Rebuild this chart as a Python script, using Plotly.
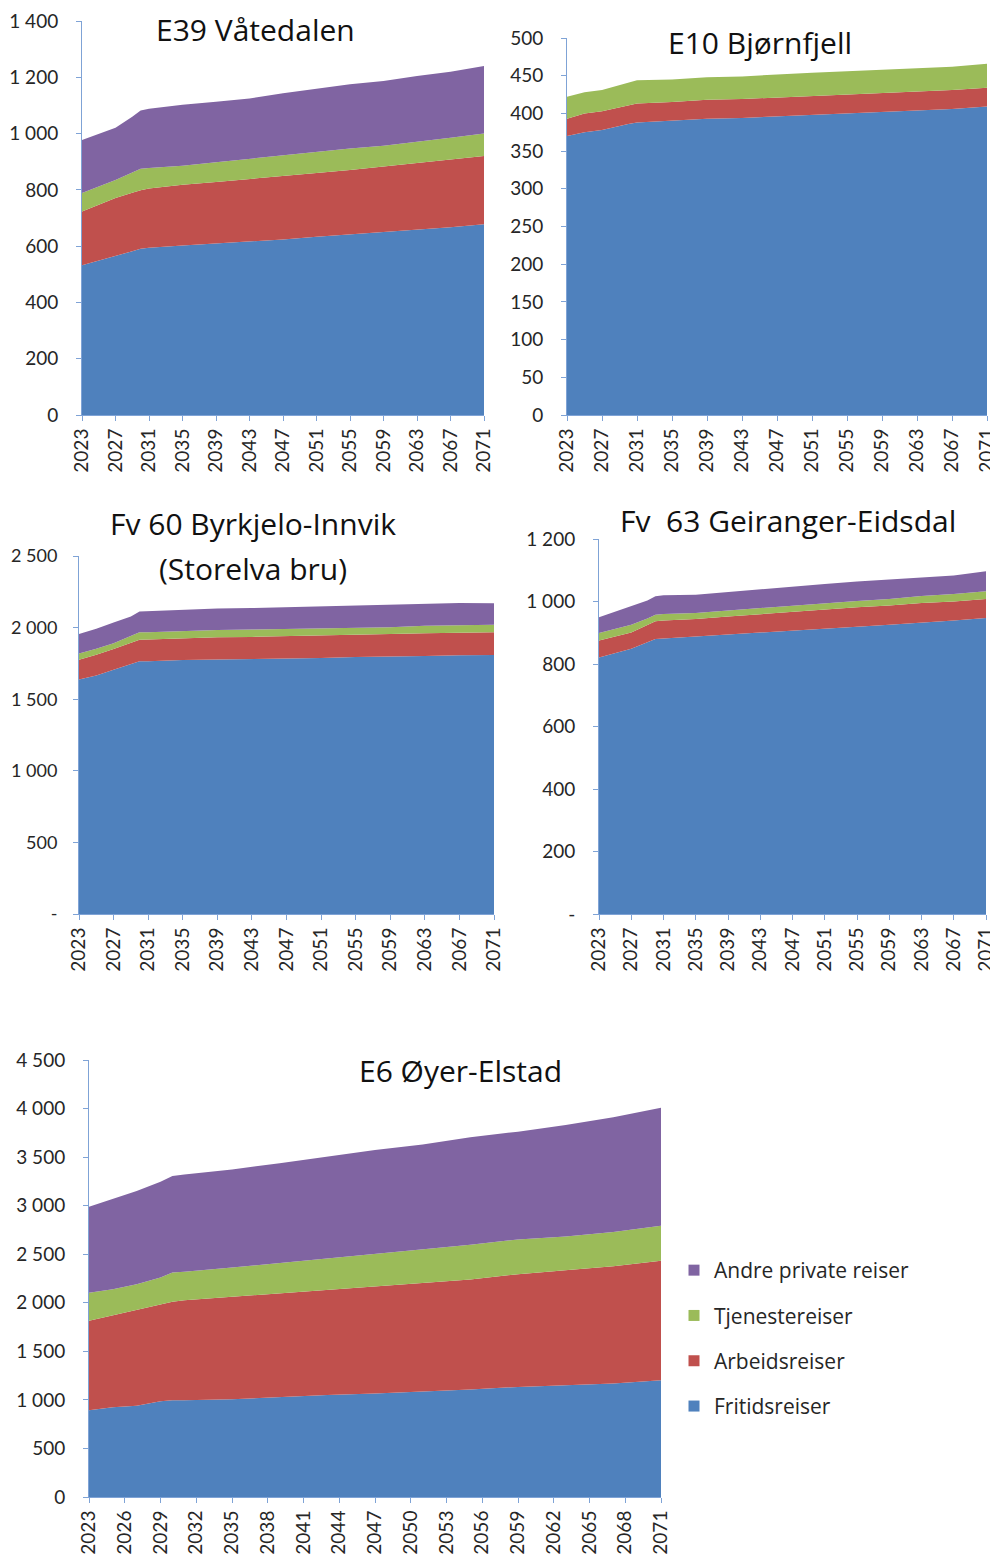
import plotly.graph_objects as go

# ---------------- data ----------------
YEARS = [2023, 2025, 2027, 2029, 2030, 2031, 2035, 2039, 2043, 2047, 2051, 2055, 2059, 2063, 2067, 2071]

SERIES = ["Fritidsreiser", "Arbeidsreiser", "Tjenestereiser", "Andre private reiser"]
COLORS = ["#4F81BD", "#C0504D", "#9BBB59", "#8064A2"]

# E39 Våtedalen
e39_fritid = [532, 548, 566, 582, 591, 594, 602, 609, 617, 624, 633, 641, 649, 658, 667, 678]
e39_arbeid = [191, 200, 205, 208, 208, 211, 216, 219, 221, 224, 227, 230, 234, 237, 240, 242]
e39_tjeneste = [66, 64, 64, 72, 76, 73, 68, 70, 72, 76, 76, 76, 74, 75, 78, 80]
e39_andre = [188, 188, 186, 198, 207, 210, 216, 215, 215, 219, 224, 228, 230, 235, 235, 240]

# E10 Bjørnfjell
e10_fritid = [370, 375, 378, 384, 386, 388, 391, 393, 394, 396, 398, 400, 402, 404, 406, 409]
e10_arbeid = [23, 25, 25, 24, 25, 25, 24, 25, 25, 25, 25, 25, 25, 25, 25, 25]
e10_tjeneste = [29, 28, 28, 30, 30, 31, 30, 30, 30, 31, 31, 31, 31, 31, 31, 32]
e10_andre = [0, 0, 0, 0, 0, 0, 0, 0, 0, 0, 0, 0, 0, 0, 0, 0]

# Fv 60 Byrkjelo-Innvik (Storelva bru)
fv60_fritid = [1637, 1665, 1705, 1745, 1765, 1765, 1774, 1777, 1780, 1786, 1788, 1795, 1797, 1801, 1807, 1809]
fv60_arbeid = [139, 145, 146, 148, 151, 152, 153, 155, 155, 153, 158, 156, 158, 160, 158, 158]
fv60_tjeneste = [44, 42, 39, 45, 51, 51, 51, 51, 51, 51, 48, 48, 48, 52, 52, 53]
fv60_andre = [135, 140, 146, 140, 146, 147, 149, 150, 151, 152, 153, 154, 154, 154, 154, 150]

# Fv 63 Geiranger-Eidsdal
fv63_fritid = [821, 835, 849, 870, 880, 882, 888, 894, 899, 905, 912, 919, 926, 932, 939, 947]
fv63_arbeid = [54, 53, 52, 55, 57, 57, 56, 58, 61, 61, 62, 63, 61, 63, 61, 61]
fv63_tjeneste = [24, 25, 25, 21, 21, 21, 19, 19, 19, 19, 19, 20, 21, 23, 24, 25]
fv63_andre = [51, 55, 59, 57, 59, 60, 59, 60, 61, 62, 63, 62, 62, 60, 59, 64]

# E6 Øyer-Elstad
e6_fritid = [893, 925, 940, 985, 996, 996, 1006, 1030, 1050, 1065, 1085, 1108, 1134, 1150, 1168, 1202]
e6_arbeid = [921, 945, 985, 997, 1014, 1029, 1055, 1065, 1080, 1106, 1117, 1132, 1161, 1185, 1207, 1230]
e6_tjeneste = [288, 270, 265, 278, 302, 295, 302, 315, 325, 337, 348, 358, 357, 347, 355, 361]
e6_andre = [887, 930, 960, 986, 993, 1000, 1010, 1027, 1050, 1065, 1080, 1107, 1110, 1148, 1180, 1216]

TICKS_TOP = [2023, 2027, 2031, 2035, 2039, 2043, 2047, 2051, 2055, 2059, 2063, 2067, 2071]
TICKS_BOTTOM = [2023, 2026, 2029, 2032, 2035, 2038, 2041, 2044, 2047, 2050, 2053, 2056, 2059, 2062, 2065, 2068, 2071]

YT_E39 = [0, 200, 400, 600, 800, 1000, 1200, 1400]
YT_E10 = [0, 50, 100, 150, 200, 250, 300, 350, 400, 450, 500]
YT_FV60 = [0, 500, 1000, 1500, 2000, 2500]
YT_FV63 = [0, 200, 400, 600, 800, 1000, 1200]
YT_E6 = [0, 500, 1000, 1500, 2000, 2500, 3000, 3500, 4000, 4500]

# ---------------- layout helpers ----------------
OFF = 8                      # page body margin in the browser
W, H = 998 - OFF, 1564 - 2 * OFF
FONT = "Lato"
TITLE_FONT = "Open Sans"
TXT = "#262626"
AXC = "#7FA3D6"


def px_x(x):
    return (x - OFF) / W


def px_y(y):
    return 1 - (y - OFF) / H


def fmt(v, dash_zero=False):
    if v == 0 and dash_zero:
        return "-"
    return f"{v:,}".replace(",", " ")


panels = [
    dict(data=[e39_fritid, e39_arbeid, e39_tjeneste, e39_andre],
         xd=(82, 484), yd=(21, 415), yr=1400, yt=YT_E39, dash=False, xt=TICKS_TOP,
         yfs=19, ysd=14, title=[("E39 Våtedalen", 255, 29)]),
    dict(data=[e10_fritid, e10_arbeid, e10_tjeneste, e10_andre],
         xd=(567, 987), yd=(38, 415), yr=500, yt=YT_E10, dash=False, xt=TICKS_TOP,
         yfs=19, ysd=14, title=[("E10 Bjørnfjell", 760, 42)]),
    dict(data=[fv60_fritid, fv60_arbeid, fv60_tjeneste, fv60_andre],
         xd=(79, 494), yd=(556, 914), yr=2500, yt=YT_FV60, dash=True, xt=TICKS_TOP,
         yfs=18, ysd=12, title=[("Fv 60 Byrkjelo-Innvik", 253, 524), ("(Storelva bru)", 253, 568)]),
    dict(data=[fv63_fritid, fv63_arbeid, fv63_tjeneste, fv63_andre],
         xd=(599, 986), yd=(539, 914), yr=1200, yt=YT_FV63, dash=True, xt=TICKS_TOP,
         yfs=19, ysd=14, title=[("Fv  63 Geiranger-Eidsdal", 788, 521)]),
    dict(data=[e6_fritid, e6_arbeid, e6_tjeneste, e6_andre],
         xd=(89, 661), yd=(1060, 1497), yr=4500, yt=YT_E6, dash=False, xt=TICKS_BOTTOM,
         yfs=19, ysd=14, title=[("E6 Øyer-Elstad", 460, 1070)]),
]

fig = go.Figure()
annotations = []

for i, p in enumerate(panels):
    n = i + 1
    xa = "x" if n == 1 else f"x{n}"
    ya = "y" if n == 1 else f"y{n}"
    for vals, col, nm in zip(p["data"], COLORS, SERIES):
        fig.add_trace(go.Scatter(
            x=YEARS, y=vals, xaxis=xa, yaxis=ya, mode="lines",
            line=dict(width=0, color=col), fillcolor=col,
            stackgroup=f"g{n}", name=nm, showlegend=False, hoverinfo="x+y+name"))
    xkey = "xaxis" if n == 1 else f"xaxis{n}"
    ykey = "yaxis" if n == 1 else f"yaxis{n}"
    fig.update_layout(**{
        xkey: dict(domain=[px_x(p["xd"][0]), px_x(p["xd"][1])], anchor=ya, automargin=False,
                   range=[2023, 2071], tickvals=p["xt"], ticktext=[str(t) for t in p["xt"]],
                   tickangle=-90, showgrid=False, zeroline=False, showline=True,
                   linecolor=AXC, linewidth=1, ticks="outside", ticklen=5, tickcolor=AXC,
                   tickfont=dict(family=FONT, size=19, color=TXT), ticklabelstandoff=0,
                   ticklabeloverflow="allow"),
        ykey: dict(domain=[px_y(p["yd"][1]), px_y(p["yd"][0])], anchor=xa, automargin=False,
                   range=[0, p["yr"]], tickvals=p["yt"],
                   ticktext=[fmt(v, p["dash"]) for v in p["yt"]],
                   showgrid=False, zeroline=False, showline=True,
                   linecolor=AXC, linewidth=1, ticks="outside", ticklen=5, tickcolor=AXC,
                   tickfont=dict(family=FONT, size=p["yfs"], color=TXT),
                   ticklabelstandoff=p["ysd"], ticklabeloverflow="allow"),
    })
    for txt, tx, ty in p["title"]:
        annotations.append(dict(text=txt, x=px_x(tx), y=px_y(ty), xref="paper", yref="paper",
                                xanchor="center", yanchor="middle", showarrow=False,
                                font=dict(family=TITLE_FONT, size=30, color="#111111")))

# legend-only entries (square swatches), top-to-bottom: Andre, Tjeneste, Arbeid, Fritid
for s in [3, 2, 1, 0]:
    fig.add_trace(go.Scatter(
        x=[None], y=[None], xaxis="x5", yaxis="y5", mode="markers",
        marker=dict(symbol="square", size=11, color=COLORS[s]),
        name=SERIES[s], showlegend=True, legendgroup=SERIES[s]))

fig.update_layout(
    template="none",
    width=W, height=H, margin=dict(l=0, r=0, t=0, b=0, autoexpand=False),
    paper_bgcolor="white", plot_bgcolor="white",
    annotations=annotations,
    legend=dict(x=px_x(674), y=px_y(1250), xanchor="left", yanchor="top",
                font=dict(family=TITLE_FONT, size=21, color=TXT), tracegroupgap=15,
                bgcolor="rgba(0,0,0,0)", borderwidth=0, itemclick=False),
    showlegend=True,
)

fig.write_html("out.html")
